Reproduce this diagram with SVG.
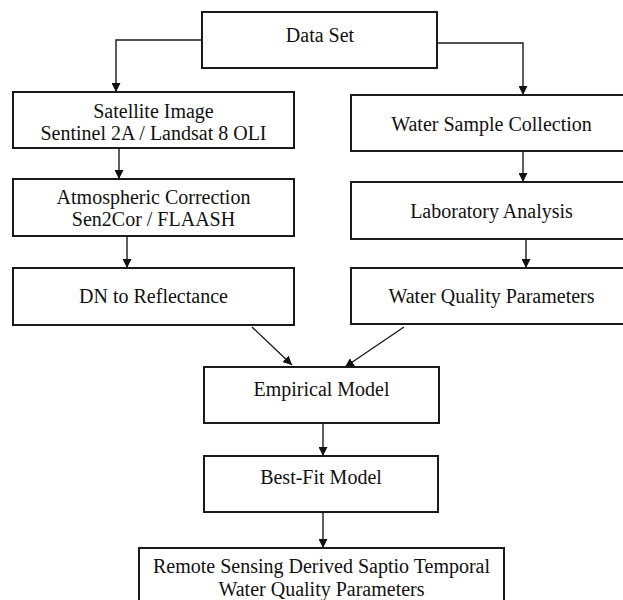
<svg xmlns="http://www.w3.org/2000/svg" width="623" height="600" viewBox="0 0 623 600">
<defs>
<style>
.box{fill:#fff;stroke:#1a1a1a;stroke-width:2}
.t{font-family:"Liberation Serif","Times New Roman",serif;font-size:20px;fill:#111;text-anchor:middle}
.c{fill:none;stroke:#1a1a1a;stroke-width:1.4}
</style>
<marker id="ah" viewBox="0 0 10 10" refX="10" refY="5" markerWidth="9" markerHeight="9" markerUnits="userSpaceOnUse" orient="auto">
<path d="M0,0 L10,5 L0,10 z" fill="#111"/>
</marker>
</defs>
<rect width="623" height="600" fill="#fff"/>
<g id="connectors">
<path class="c" d="M202,40 H116 V92" marker-end="url(#ah)"/>
<path class="c" d="M437,43 H523 V95" marker-end="url(#ah)"/>
<path class="c" d="M119,148 V179" marker-end="url(#ah)"/>
<path class="c" d="M523,151 V182" marker-end="url(#ah)"/>
<path class="c" d="M127,236 V268" marker-end="url(#ah)"/>
<path class="c" d="M526,239 V268" marker-end="url(#ah)"/>
<path class="c" d="M252,327 L292,365" marker-end="url(#ah)"/>
<path class="c" d="M404,327 L345,367" marker-end="url(#ah)"/>
<path class="c" d="M323,423 V456" marker-end="url(#ah)"/>
<path class="c" d="M323,512 V548" marker-end="url(#ah)"/>
</g>
<g id="data-set">
<rect class="box" x="202" y="12" width="235" height="56"/>
<text class="t" x="320" y="42">Data Set</text>
</g>
<g id="satellite-image">
<rect class="box" x="13" y="92" width="281" height="56"/>
<text class="t" x="153.5" y="118">Satellite Image</text>
<text class="t" x="153.5" y="140">Sentinel 2A / Landsat 8 OLI</text>
</g>
<g id="water-sample">
<rect class="box" x="351" y="95" width="281" height="56"/>
<text class="t" x="491.5" y="131">Water Sample Collection</text>
</g>
<g id="atmospheric-correction">
<rect class="box" x="13" y="179" width="281" height="57"/>
<text class="t" x="153.5" y="204">Atmospheric Correction</text>
<text class="t" x="153.5" y="226">Sen2Cor / FLAASH</text>
</g>
<g id="laboratory-analysis">
<rect class="box" x="351" y="182" width="281" height="57"/>
<text class="t" x="491.5" y="218">Laboratory Analysis</text>
</g>
<g id="dn-reflectance">
<rect class="box" x="13" y="268" width="281" height="57"/>
<text class="t" x="153.5" y="303">DN to Reflectance</text>
</g>
<g id="water-quality">
<rect class="box" x="351" y="268" width="281" height="56"/>
<text class="t" x="491.5" y="303">Water Quality Parameters</text>
</g>
<g id="empirical-model">
<rect class="box" x="204" y="367" width="235" height="56"/>
<text class="t" x="321.5" y="396">Empirical Model</text>
</g>
<g id="best-fit-model">
<rect class="box" x="204" y="456" width="234" height="56"/>
<text class="t" x="321" y="484">Best-Fit Model</text>
</g>
<g id="remote-sensing">
<rect class="box" x="139" y="548" width="365" height="60"/>
<text class="t" x="321.5" y="573">Remote Sensing Derived Saptio Temporal</text>
<text class="t" x="321.5" y="596">Water Quality Parameters</text>
</g>
</svg>
